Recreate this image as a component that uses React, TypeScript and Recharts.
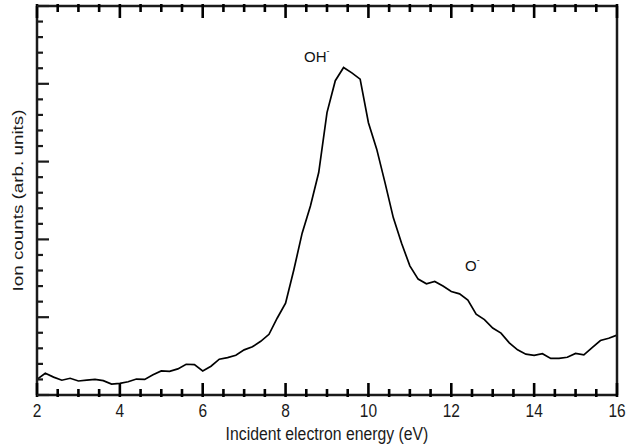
import React from 'react';
import { LineChart, Line, XAxis, YAxis, ReferenceDot } from 'recharts';

const energies = [
  2.0, 2.2, 2.4, 2.6, 2.8, 3.0, 3.2, 3.4, 3.6, 3.8,
  4.0, 4.2, 4.4, 4.6, 4.8, 5.0, 5.2, 5.4, 5.6, 5.8,
  6.0, 6.2, 6.4, 6.6, 6.8, 7.0, 7.2, 7.4, 7.6, 7.8,
  8.0, 8.2, 8.4, 8.6, 8.8, 9.0, 9.2, 9.4, 9.6, 9.8,
  10.0, 10.2, 10.4, 10.6, 10.8, 11.0, 11.2, 11.4, 11.6, 11.8,
  12.0, 12.2, 12.4, 12.6, 12.8, 13.0, 13.2, 13.4, 13.6, 13.8,
  14.0, 14.2, 14.4, 14.6, 14.8, 15.0, 15.2, 15.4, 15.6, 15.8,
  16.0,
];

const counts = [
  0.20, 0.28, 0.23, 0.19, 0.215, 0.18, 0.19, 0.20, 0.185, 0.14,
  0.15, 0.17, 0.205, 0.20, 0.26, 0.31, 0.305, 0.335, 0.395, 0.39,
  0.31, 0.37, 0.46, 0.48, 0.51, 0.58, 0.62, 0.69, 0.78, 0.99,
  1.18, 1.61, 2.08, 2.43, 2.86, 3.63, 4.04, 4.21, 4.14, 4.06,
  3.50, 3.16, 2.73, 2.28, 1.95, 1.66, 1.49, 1.43, 1.46, 1.40,
  1.33, 1.30, 1.22, 1.04, 0.97, 0.86, 0.795, 0.67, 0.58, 0.525,
  0.51, 0.53, 0.47, 0.47, 0.485, 0.535, 0.515, 0.61, 0.70, 0.73,
  0.77,
];

const xTicks = [
  2, 2.5, 3, 3.5, 4, 4.5, 5, 5.5, 6, 6.5, 7, 7.5, 8, 8.5, 9, 9.5,
  10, 10.5, 11, 11.5, 12, 12.5, 13, 13.5, 14, 14.5, 15, 15.5, 16,
];
const xLabelTicks = [2, 4, 6, 8, 10, 12, 14, 16];

const yTicks = [
  0, 0.2, 0.4, 0.6, 0.8, 1, 1.2, 1.4, 1.6, 1.8, 2, 2.2, 2.4, 2.6, 2.8,
  3, 3.2, 3.4, 3.6, 3.8, 4, 4.2, 4.4, 4.6, 4.8, 5,
];

const xTitle = 'Incident electron energy (eV)';
const yTitle = 'Ion counts (arb. units)';

const annotations = [
  { label: 'OH', x: 8.445, y: 4.28 },
  { label: 'O', x: 12.33, y: 1.594 },
];

const data = energies.map((e, i) => ({ e, v: counts[i] }));

const FONT = '"Liberation Sans", Arial, Helvetica, sans-serif';
const MAJOR = 12;
const MINOR = 6;
const TICK_COLOR = '#1a1a1a';

const isMajorX = (v: number) => xLabelTicks.some((t) => Math.abs(t - v) < 1e-6);
const isMajorY = (v: number) => Math.abs(v - Math.round(v)) < 1e-6;

const BottomTick = (props: any) => {
  const { x, y, payload } = props;
  const major = isMajorX(payload.value);
  const len = major ? MAJOR : MINOR;
  return (
    <g>
      <path d={`M${x},${y - len}L${x},${y + 2}`} stroke="#000" strokeWidth={2.6} fill="none" />
      {major ? (
        <text
          x={0}
          y={0}
          transform={`translate(${x}, ${y + 22}) scale(1, 1.15)`}
          textAnchor="middle"
          fontSize={15.5}
          fontFamily={FONT}
          fill={TICK_COLOR}
          stroke="none"
        >
          {payload.value}
        </text>
      ) : null}
    </g>
  );
};

const TopTick = (props: any) => {
  const { x, y, payload } = props;
  const major = isMajorX(payload.value);
  const len = major ? MAJOR : MINOR;
  return (
    <g>
      <path d={`M${x},${y - 2}L${x},${y + len}`} stroke="#000" strokeWidth={2.6} fill="none" />
    </g>
  );
};

const LeftTick = (props: any) => {
  const { x, y, payload } = props;
  const major = isMajorY(payload.value);
  return <path d={`M${x},${y}L${x + (major ? MAJOR : MINOR)},${y}`} stroke={TICK_COLOR} strokeWidth={2.2} fill="none" />;
};

const RightTick = (props: any) => {
  const { x, y, payload } = props;
  const major = isMajorY(payload.value);
  return <path d={`M${x},${y}L${x - (major ? MAJOR : MINOR)},${y}`} stroke={TICK_COLOR} strokeWidth={2.2} fill="none" />;
};

const YTitle = (props: any) => {
  const vb = props.viewBox || {};
  const cx = 18;
  const cy = (vb.y ?? 6) + (vb.height ?? 389) / 2;
  return (
    <text
      x={cx}
      y={cy}
      transform={`rotate(-90, ${cx}, ${cy})`}
      textAnchor="middle"
      dominantBaseline="central"
      fontSize={14.5}
      fontFamily={FONT}
      fill={TICK_COLOR}
      textLength={182}
      lengthAdjust="spacingAndGlyphs"
    >
      {yTitle}
    </text>
  );
};

const XTitle = (props: any) => {
  const vb = props.viewBox || {};
  const cx = (vb.x ?? 37) + (vb.width ?? 580) / 2;
  return (
    <text
      x={0}
      y={0}
      transform={`translate(${cx}, 440) scale(1, 1.12)`}
      textAnchor="middle"
      fontSize={15.8}
      fontFamily={FONT}
      fill={TICK_COLOR}
    >
      {xTitle}
    </text>
  );
};

const makeAnnotation = (label: string) => (props: any) => {
  const { cx, cy } = props;
  return (
    <text x={cx} y={cy} fontSize={15} fontFamily={FONT} fill="#111">
      {label}
      <tspan fontSize={9} dy={-8}>-</tspan>
    </text>
  );
};

export default function App() {
  return (
    <div style={{ position: 'absolute', left: 0, top: 0, background: '#fff' }}>
      <LineChart width={639} height={445} data={data} margin={{ top: 0, right: 10, bottom: 0, left: 0 }}>
        <XAxis xAxisId="bottom" dataKey="e" type="number" domain={[2, 16]} ticks={xTicks} interval={0}
          orientation="bottom" height={50} tickSize={0} tickMargin={0} tickLine={false} tick={BottomTick}
          axisLine={{ stroke: TICK_COLOR, strokeWidth: 2.5 }} label={{ content: XTitle }} />
        <XAxis xAxisId="top" dataKey="e" type="number" domain={[2, 16]} ticks={xTicks} interval={0}
          orientation="top" height={6} tickSize={0} tickMargin={0} tickLine={false} tick={TopTick}
          axisLine={{ stroke: TICK_COLOR, strokeWidth: 2.5 }} />
        <YAxis yAxisId="left" type="number" domain={[0, 5]} ticks={yTicks} interval={0} orientation="left"
          width={37} tickSize={0} tickMargin={0} tickLine={false} tick={LeftTick}
          axisLine={{ stroke: TICK_COLOR, strokeWidth: 2.5 }} label={{ content: YTitle }} />
        <YAxis yAxisId="right" type="number" domain={[0, 5]} ticks={yTicks} interval={0} orientation="right"
          width={12} tickSize={0} tickMargin={0} tickLine={false} tick={RightTick}
          axisLine={{ stroke: TICK_COLOR, strokeWidth: 2.5 }} />
        <Line xAxisId="bottom" yAxisId="left" dataKey="v" type="linear" stroke="#000" strokeWidth={1.7}
          dot={false} isAnimationActive={false} />
        {annotations.map((a) => (
          <ReferenceDot key={a.label} xAxisId="bottom" yAxisId="left" x={a.x} y={a.y} r={0}
            shape={makeAnnotation(a.label)} />
        ))}
      </LineChart>
    </div>
  );
}
